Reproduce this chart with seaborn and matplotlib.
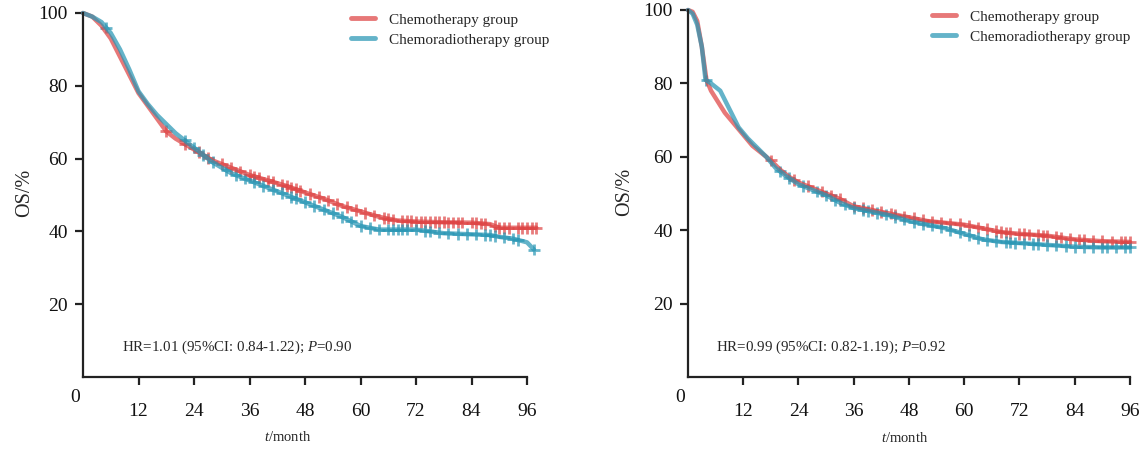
import numpy as np
import pandas as pd
import matplotlib.pyplot as plt
import seaborn as sns

# OS curves (month, OS %)
left_chemo_t = [0, 2, 4, 6, 8, 10, 12, 14, 16, 18, 20, 24, 28, 32, 36, 40, 44, 48, 52, 56, 60, 64, 68, 72, 78, 84, 88, 90, 96, 98]
left_chemo_os = [100, 99, 96.5, 93, 88, 83, 78, 74.5, 71, 67.5, 65.5, 62.5, 59.5, 57.5, 55.5, 54, 52.5, 50.7, 49, 47, 45.5, 44, 43, 42.7, 42.5, 42.4, 42, 41, 41, 41]
left_crt_t = [0, 2, 4, 6, 8, 10, 12, 14, 16, 18, 20, 24, 28, 32, 36, 40, 44, 48, 52, 56, 60, 64, 72, 78, 84, 88, 90, 93, 96, 97.5]
left_crt_os = [100, 99, 97.5, 94.5, 90, 84.5, 78.5, 75, 72, 69.5, 67, 63, 59, 56, 54, 52, 50, 48, 46, 44, 41.5, 40.5, 40.5, 39.5, 39.2, 39, 38.5, 38, 37, 35]

right_chemo_t = [0, 1, 2, 3, 4, 5, 6, 8, 10, 12, 14, 16, 18, 20, 22, 24, 27, 30, 33, 36, 40, 44, 48, 52, 56, 60, 64, 68, 72, 78, 84, 90, 96]
right_chemo_os = [100, 99.5, 97, 90, 81, 78, 76, 72, 69, 66, 63, 61, 59, 56.5, 54.5, 53, 51.5, 50, 48.5, 46.5, 45.5, 44.5, 43.5, 42.5, 42, 41.5, 40.5, 39.5, 39, 38.5, 37.5, 37, 36.8]
right_crt_t = [0, 1, 2, 3, 3.8, 5, 7, 9, 11, 13, 15, 17, 19, 21, 24, 27, 30, 33, 36, 40, 44, 48, 52, 56, 60, 64, 68, 72, 78, 84, 90, 96]
right_crt_os = [100, 99, 96, 90, 81, 80, 78, 73, 68, 65, 62.5, 60, 57, 55, 52.5, 51, 49.5, 47.5, 46, 45, 44, 42.5, 41.5, 40.5, 39, 37.5, 36.8, 36.5, 36, 35.5, 35.3, 35.3]

# censoring times (months)
left_chemo_cens = [18, 22, 25, 27, 30, 32, 34, 36, 37, 38, 40, 41, 43, 44, 45, 46, 47, 49, 51, 53, 55, 57, 59, 61, 63,
                   65, 66, 67, 69, 70, 71, 72, 73, 74, 75, 76, 77, 78, 79, 80, 81, 82, 84, 85, 86, 87, 89, 90, 91, 92, 94, 95, 96, 97, 98]
left_crt_cens = [5, 22, 24, 26, 28, 31, 33, 35, 37, 39, 41, 43, 45, 46, 48, 50, 52, 54, 56, 58, 60, 62, 64, 66, 67, 68,
                 69, 70, 72, 74, 75, 77, 79, 81, 83, 85, 87, 88, 89, 91, 93, 94, 97.5]
right_chemo_cens = [18, 23, 26, 29, 31, 33, 36, 38, 40, 42, 44, 45, 47, 49, 51, 53, 55, 57, 59, 61, 63, 65, 67, 68, 69,
                    70, 72, 73, 74, 76, 77, 78, 80, 81, 83, 85, 86, 88, 90, 92, 94, 95, 96]
right_crt_cens = [4, 20, 22, 25, 28, 30, 32, 34, 36, 38, 39, 41, 43, 45, 47, 49, 51, 53, 55, 57, 59, 61, 63, 65, 67, 69,
                  70, 71, 73, 75, 76, 78, 80, 82, 84, 86, 88, 90, 91, 93, 95, 96]

groups = ["Chemotherapy group", "Chemoradiotherapy group"]
hr_texts = ["HR=1.01 (95%CI: 0.84-1.22); $P$=0.90", "HR=0.99 (95%CI: 0.82-1.19); $P$=0.92"]
x_ticks = [12, 24, 36, 48, 60, 72, 84, 96]
y_ticks = [20, 40, 60, 80, 100]

sns.set_style("ticks")
plt.rcParams["font.family"] = ["Liberation Serif", "DejaVu Serif"]
plt.rcParams["mathtext.fontset"] = "custom"
plt.rcParams["mathtext.rm"] = "Liberation Serif"
plt.rcParams["mathtext.it"] = "Liberation Serif:italic"

palette = {groups[0]: "#de4444", groups[1]: "#2896b4"}

panels = [
    (left_chemo_t, left_chemo_os, left_chemo_cens, left_crt_t, left_crt_os, left_crt_cens),
    (right_chemo_t, right_chemo_os, right_chemo_cens, right_crt_t, right_crt_os, right_crt_cens),
]

fig = plt.figure(figsize=(11.48, 4.5), dpi=100)
ax1 = fig.add_axes([83 / 1148, 1 - 377 / 450, 99 * 4.625 / 1148, 101 * 3.64 / 450])
ax2 = fig.add_axes([688 / 1148, 1 - 377 / 450, 99 * 4.604 / 1148, 101 * 3.67 / 450])

for ax, (ct, cos, cc, rt, ros, rc), hr in zip([ax1, ax2], panels, hr_texts):
    left = ax is ax1
    df = pd.concat([
        pd.DataFrame({"month": ct, "os": cos, "group": groups[0]}),
        pd.DataFrame({"month": rt, "os": ros, "group": groups[1]}),
    ])
    sns.lineplot(data=df, x="month", y="os", hue="group", hue_order=groups, palette=palette,
                 estimator=None, lw=3.2, alpha=0.72, ax=ax, clip_on=False)
    cens = pd.concat([
        pd.DataFrame({"month": cc, "os": np.interp(cc, ct, cos), "group": groups[0]}),
        pd.DataFrame({"month": rc, "os": np.interp(rc, rt, ros), "group": groups[1]}),
    ])
    sns.scatterplot(data=cens, x="month", y="os", hue="group", hue_order=groups, palette=palette,
                    marker="+", s=70, linewidth=2, alpha=0.7, ax=ax, legend=False, clip_on=False)

    ax.set_xlim(0, 99)
    ax.set_ylim(0, 101)
    ax.spines["top"].set_visible(False)
    ax.spines["right"].set_visible(False)
    ax.spines["left"].set_bounds(0, 100)
    ax.spines["bottom"].set_bounds(0, 96)
    for s in ["left", "bottom"]:
        ax.spines[s].set_linewidth(1.6)
        ax.spines[s].set_color("#222222")
    ax.set_xticks(x_ticks)
    ax.set_yticks(y_ticks)
    ax.tick_params(axis="both", length=6, width=1.6, color="#222222", labelsize=14, labelcolor="#111111")
    ax.tick_params(axis="x", pad=13)
    ax.tick_params(axis="y", pad=5)
    ax.annotate("0", xy=(0, 0), xytext=(-6, -15), textcoords="offset points",
                ha="center", va="center", fontsize=14, color="#111111", annotation_clip=False)
    ax.set_xlabel("$t$/month", fontsize=10.5)
    ax.xaxis.set_label_coords(0.447 if left else 0.476, -0.145)
    ax.set_ylabel("OS/%", fontsize=14.5)
    ax.yaxis.set_label_coords(-0.107 if left else -0.118, 0.5)
    ax.text(8.5 if left else 6.0, 8.2, hr, fontsize=10.8, va="center", ha="left")

    leg = ax.legend(loc="upper left", bbox_to_anchor=(0.585 if left else 0.535, 0.99),
                    frameon=False, fontsize=11, handlelength=1.6, handletextpad=0.9,
                    labelspacing=0.4, borderaxespad=0, borderpad=0)
    for h in leg.get_lines():
        h.set_linewidth(3.5)
        h.set_alpha(0.72)

fig.savefig("out.png", dpi=100)
